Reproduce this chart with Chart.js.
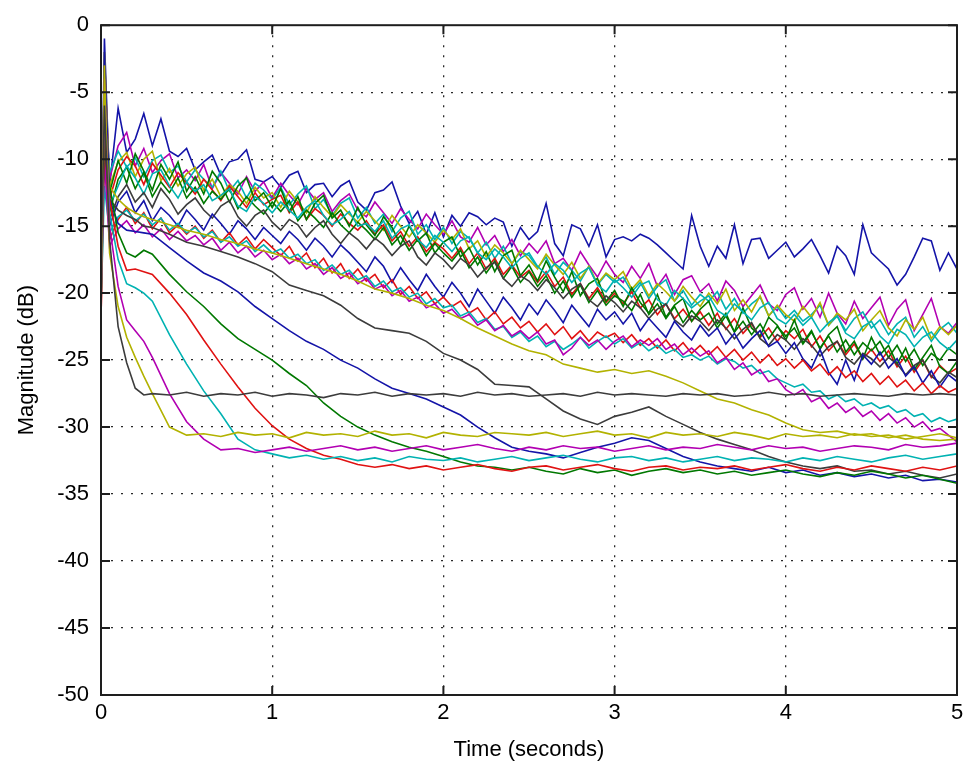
<!DOCTYPE html>
<html>
<head>
<meta charset="utf-8">
<script src="https://cdn.jsdelivr.net/npm/chart.js@4.4.1/dist/chart.umd.min.js"></script>
<style>
  body { margin: 0; background: #fff; }
  #wrap { width: 970px; height: 766px; }
</style>
</head>
<body>
<div id="wrap"><canvas id="grafico" width="970" height="766"></canvas></div>
<script>
// Time bases (seconds)
const tFine = [0, 0.02,
  0.05, 0.1, 0.15, 0.2, 0.25, 0.3, 0.35, 0.4, 0.45, 0.5,
  0.55, 0.6, 0.65, 0.7, 0.75, 0.8, 0.85, 0.9, 0.95, 1,
  1.05, 1.1, 1.15, 1.2, 1.25, 1.3, 1.35, 1.4, 1.45, 1.5,
  1.55, 1.6, 1.65, 1.7, 1.75, 1.8, 1.85, 1.9, 1.95, 2,
  2.05, 2.1, 2.15, 2.2, 2.25, 2.3, 2.35, 2.4, 2.45, 2.5,
  2.55, 2.6, 2.65, 2.7, 2.75, 2.8, 2.85, 2.9, 2.95, 3,
  3.05, 3.1, 3.15, 3.2, 3.25, 3.3, 3.35, 3.4, 3.45, 3.5,
  3.55, 3.6, 3.65, 3.7, 3.75, 3.8, 3.85, 3.9, 3.95, 4,
  4.05, 4.1, 4.15, 4.2, 4.25, 4.3, 4.35, 4.4, 4.45, 4.5,
  4.55, 4.6, 4.65, 4.7, 4.75, 4.8, 4.85, 4.9, 4.95, 5];
const tCoarse = [0, 0.02, 0.05, 0.1, 0.15, 0.2, 0.25,
  0.3, 0.4, 0.5, 0.6, 0.7, 0.8, 0.9, 1,
  1.1, 1.2, 1.3, 1.4, 1.5, 1.6, 1.7, 1.8, 1.9, 2,
  2.1, 2.2, 2.3, 2.4, 2.5, 2.6, 2.7, 2.8, 2.9, 3,
  3.1, 3.2, 3.3, 3.4, 3.5, 3.6, 3.7, 3.8, 3.9, 4,
  4.1, 4.2, 4.3, 4.4, 4.5, 4.6, 4.7, 4.8, 4.9, 5];

const xTicks = [0, 1, 2, 3, 4, 5];
const yTicks = [0, -5, -10, -15, -20, -25, -30, -35, -40, -45, -50];

// Magnitude (dB) on tCoarse: channels that decay to the noise floor
const yellowFast = [-20, -3, -17, -21.0, -23.3, -24.8, -26.2,
  -27.5, -30.0, -30.6,
  -30.5, -30.7, -30.4, -30.6, -30.5, -30.8, -30.4, -30.6, -30.5, -30.7,
  -30.3, -30.6, -30.5, -30.8, -30.4, -30.6, -30.7, -30.4, -30.5, -30.6,
  -30.4, -30.7, -30.5, -30.3, -30.6, -30.5, -30.8, -30.4, -30.6, -30.5,
  -30.7, -30.4, -30.6, -30.9, -30.5, -30.7, -30.6, -30.8, -30.5, -30.7,
  -30.6, -30.9, -30.7, -30.5, -30.8];
const blackFlat = [-18, -6, -16, -22.5, -25.2, -27.1, -27.6,
  -27.5, -27.6, -27.4,
  -27.7, -27.5, -27.6, -27.4, -27.7, -27.5, -27.6, -27.8, -27.5, -27.6,
  -27.4, -27.7, -27.5, -27.6, -27.5, -27.7, -27.4, -27.6, -27.5, -27.7,
  -27.6, -27.5, -27.7, -27.4, -27.6, -27.5, -27.6, -27.7, -27.5, -27.6,
  -27.5, -27.7, -27.6, -27.4, -27.6, -27.5, -27.7, -27.6, -27.5, -27.6,
  -27.7, -27.5, -27.6, -27.5, -27.6];
const magentaFast = [-20, -4, -15, -19.5, -22.0, -22.8, -23.6,
  -24.8, -27.5, -29.6, -30.9, -31.7,
  -31.6, -31.9, -31.7, -31.5, -31.8, -31.6, -31.4, -31.7, -31.5, -31.8,
  -31.6, -31.4, -31.7, -31.5, -31.3, -31.6, -31.8, -31.5, -31.7, -31.4,
  -31.6, -31.5, -31.8, -31.6, -31.4, -31.7, -31.5, -31.6, -31.3, -31.5,
  -31.7, -31.4, -31.6, -31.5, -31.8, -31.6, -31.4, -31.5, -31.7, -31.3,
  -31.5, -31.4, -31.2];
const cyanFast = [-21, -5, -14, -17.5, -19.3, -19.6, -20.0,
  -20.6, -23.1, -25.3, -27.3, -29.0, -30.9, -31.7, -32.0,
  -32.3, -32.1, -32.4, -32.2, -32.5, -32.3, -32.6, -32.2, -32.4, -32.5,
  -32.3, -32.6, -32.4, -32.2, -32.5, -32.3, -32.1, -32.4, -32.6, -32.3,
  -32.2, -32.5, -32.3, -32.6, -32.4, -32.2, -32.5, -32.3, -32.4, -32.6,
  -32.3, -32.5, -32.2, -32.4, -32.6, -32.3, -32.1, -32.4, -32.2, -32.0];
const redFast = [-22, -7, -13, -16.5, -18.3, -18.2, -18.4,
  -18.6, -20.0, -21.6, -23.5, -25.3, -27.0, -28.6, -29.9,
  -30.9, -31.6, -32.1, -32.4, -32.8,
  -33.0, -32.8, -33.1, -32.9, -33.2, -33.0, -32.8, -33.1, -33.3, -33.0,
  -32.9, -33.2, -33.0, -32.8, -33.1, -33.3, -33.0, -32.9, -33.2, -33.0,
  -33.1, -32.9, -33.2, -33.0, -32.8, -33.1, -33.3, -33.0, -33.2, -32.9,
  -33.1, -33.3, -33.0, -33.2, -32.9];
const greenMed = [-19, -8, -12, -15.5, -17.0, -17.3, -16.8,
  -17.1, -18.6, -19.9, -21.0, -22.3, -23.4, -24.2, -25.0,
  -26.0, -26.9, -28.2, -29.2, -30.0, -30.6, -31.1, -31.5, -31.8, -32.2,
  -32.6, -32.9, -33.0,
  -33.2, -33.0, -33.3, -33.5, -33.1, -33.4, -33.2, -33.6, -33.3, -33.1,
  -33.4, -33.2, -33.5, -33.3, -33.6, -33.4, -33.2, -33.5, -33.7, -33.4,
  -33.6, -33.3, -33.5, -33.8, -33.6, -33.9, -34.2];
const blueMed = [-20, -2, -13, -14.8, -15.3, -15.4, -15.5,
  -15.6, -16.6, -17.6, -18.5, -19.1, -19.9, -21.0, -21.9,
  -22.8, -23.6, -24.2, -25.0, -25.6, -26.4, -27.1, -27.5, -27.9, -28.5,
  -29.1, -30.0, -30.8, -31.5, -31.8, -32.0, -32.3, -31.9, -31.5, -31.2,
  -30.8, -31.0, -31.6, -32.2, -32.6, -32.9, -33.1, -33.3, -33.0, -33.4,
  -33.2, -33.6, -33.4, -33.7, -33.5, -33.8, -33.6, -34.0, -33.9, -34.1];
const blackSlow = [-19, -9, -13, -13.8, -14.2, -14.5, -15.0,
  -15.1, -15.6, -16.2, -16.5, -16.9, -17.3, -17.8, -18.4,
  -19.4, -19.8, -20.2, -20.9, -21.9, -22.6, -22.8, -23.0, -23.6, -24.5,
  -25.0, -25.7, -26.8, -26.9, -27.0, -27.9, -28.8, -29.4, -29.8, -29.2,
  -28.9, -28.5, -29.2, -29.8, -30.4, -30.9, -31.3, -31.7, -32.2, -32.6,
  -32.9, -33.1, -32.9, -33.3, -33.2, -33.5, -33.3, -33.6, -33.8, -33.5];
const yellowSlow = [-21, -4, -12, -13.0, -13.6, -14.0, -14.3,
  -14.5, -14.9, -15.3, -15.6, -16.0, -16.3, -16.7, -17.0,
  -17.4, -17.8, -18.2, -18.6, -19.1, -19.7, -20.0, -20.4, -20.9, -21.3,
  -21.9, -22.6, -23.2, -23.8, -24.3, -24.6, -25.3, -25.6, -25.9, -25.7,
  -26.0, -25.8, -26.2, -26.7, -27.3, -27.9, -28.2, -28.7, -29.1, -29.7,
  -30.2, -30.4, -30.3, -30.6, -30.5, -30.8, -30.6, -30.9, -31.0, -30.9];

// Magnitude (dB) on tFine: noisy channels
const magentaSlow = [-20, -10,
  -16.5, -15.2, -14.6, -15.5, -14.9, -15.8, -15.2, -16.0, -15.4, -16.1,
  -15.7, -16.4, -15.9, -16.8, -16.2, -17.0, -16.5, -17.3, -16.8, -17.5,
  -17.1, -17.8, -17.4, -18.2, -17.8, -18.6, -18.1, -18.9, -18.5, -19.3,
  -18.9, -19.7, -19.4, -20.2, -19.8, -20.6, -20.3, -21.1, -20.8, -21.5,
  -21.2, -21.9, -21.6, -22.4, -22.0, -22.8, -22.4, -23.2, -22.8, -23.4,
  -22.9, -23.8, -23.5, -24.6, -24.1, -23.3, -23.9, -23.5, -24.2, -23.6,
  -23.2, -24.0, -23.5, -23.9, -23.4, -24.2, -23.8, -24.6, -24.1, -24.7,
  -24.3, -25.2, -24.8, -25.7, -25.2, -26.1, -25.7, -26.6, -26.4, -27.2,
  -27.6, -27.2, -28.1, -27.8, -28.6, -28.2, -28.9, -28.5, -29.2, -28.8,
  -29.5, -29.0, -29.7, -29.3, -30.0, -29.6, -30.3, -30.1, -30.6, -31.1];
const cyanSlow = [-21, -12,
  -15.5, -14.3, -13.8, -14.6, -14.1, -14.9, -14.4, -15.3, -14.8, -15.5,
  -15.1, -15.8, -15.4, -16.2, -15.8, -16.5, -16.1, -16.9, -16.4, -17.0,
  -16.7, -17.4, -17.1, -17.8, -17.5, -18.3, -17.9, -18.6, -18.3, -19.0,
  -18.7, -19.5, -19.1, -19.9, -19.6, -20.3, -20.0, -20.8, -20.4, -21.1,
  -20.9, -21.7, -21.4, -22.2, -21.9, -22.7, -22.5, -23.3, -22.9, -23.6,
  -23.2, -24.0, -23.6, -24.2, -23.8, -23.3, -24.1, -23.6, -23.2, -23.8,
  -23.4, -24.1, -23.7, -24.3, -23.9, -24.5, -24.2, -24.8, -24.6, -25.0,
  -24.7, -25.3, -24.9, -25.1, -25.6, -25.4, -26.0, -25.8, -26.4, -26.7,
  -27.0, -26.8, -27.4, -27.3, -27.9, -27.6, -28.1, -27.9, -28.4, -28.2,
  -28.6, -28.4, -28.9, -28.7, -29.2, -29.0, -29.6, -29.3, -29.6, -29.4];
const clusterMagenta = [-19, -3,
  -11.5, -9.0, -8.0, -10.5, -9.2, -11.0, -10.1, -9.6, -11.4, -10.8,
  -11.6, -10.4, -12.2, -11.0, -11.8, -12.6, -11.3, -12.4, -11.7, -12.9,
  -11.8, -12.7, -13.4, -12.2, -13.0, -12.5, -13.9, -13.1, -12.6, -13.8,
  -14.3, -13.2, -14.0, -14.8, -13.7, -14.5, -15.2, -14.1, -14.9, -15.6,
  -14.6, -15.8, -16.2, -15.1, -16.4, -15.7, -16.9, -16.0, -17.2, -16.3,
  -17.0, -16.1, -17.8, -17.4, -18.3, -16.9, -17.9, -18.8, -17.6, -18.6,
  -19.2, -18.0, -18.9, -17.8, -19.5, -18.6, -20.1, -19.0, -18.7, -19.9,
  -19.3, -20.6, -19.1, -19.8, -21.0, -20.2, -19.4, -20.8, -21.3, -20.1,
  -19.6, -21.2, -20.4, -21.8, -20.0, -21.5, -22.3, -20.6, -21.9, -21.1,
  -20.3, -22.4, -21.2, -20.5, -22.8, -21.6, -20.4, -22.5, -23.0, -22.2];
const clusterYellow = [-20, -2,
  -12.0, -10.2, -9.5, -11.3, -10.0, -9.4, -11.6, -10.7, -12.0, -11.1,
  -10.6, -12.3, -11.5, -12.8, -11.9, -12.4, -13.3, -12.1, -12.9, -12.5,
  -13.6, -12.4, -13.2, -14.0, -12.8, -13.6, -14.3, -13.4, -14.1, -14.7,
  -13.9, -14.6, -15.3, -14.2, -15.0, -15.8, -14.9, -15.5, -16.2, -15.3,
  -16.0, -15.2, -16.7, -16.1, -17.3, -16.4, -17.0, -17.8, -16.8, -17.5,
  -18.2, -17.1, -17.9, -18.6, -17.7, -18.9, -18.0, -19.3, -18.5, -19.0,
  -18.4, -19.7, -19.0, -20.2, -19.3, -19.9, -20.6, -19.5, -20.3, -21.0,
  -20.0, -20.8, -19.7, -21.3, -20.5, -21.4, -20.2, -21.7, -20.9, -21.6,
  -22.1, -21.0, -21.8, -20.7, -22.4, -21.5, -22.0, -21.2, -22.8, -22.0,
  -21.3, -22.6, -23.2, -22.0, -22.7, -21.8, -23.4, -22.5, -23.1, -22.4];
const clusterRed = [-21, -5,
  -13.0, -10.8, -9.8, -10.5, -11.9, -10.3, -11.2, -12.1, -11.0, -11.8,
  -12.6, -11.5, -12.3, -13.1, -12.0, -12.8, -13.6, -12.5, -13.4, -13.0,
  -12.7, -14.0, -13.2, -14.5, -13.7, -14.2, -15.0, -14.1, -14.8, -15.3,
  -14.6, -15.6, -14.9, -16.1, -15.4, -16.5, -15.8, -16.9, -16.2, -16.7,
  -17.4, -16.6, -17.8, -17.0, -18.2, -17.4, -18.6, -17.9, -18.8, -18.3,
  -19.2, -18.4, -19.5, -18.8, -20.1, -19.3, -20.4, -19.6, -20.7, -20.0,
  -20.8, -19.9, -21.1, -20.5, -21.6, -20.8, -21.9, -21.2, -22.1, -21.4,
  -22.4, -21.5, -22.7, -21.9, -23.0, -22.3, -23.3, -22.6, -23.6, -22.8,
  -23.4, -22.7, -24.0, -23.2, -24.3, -23.6, -24.6, -23.8, -24.9, -24.2,
  -25.1, -24.3, -25.5, -24.7, -25.9, -25.0, -26.3, -25.4, -26.0, -25.6];
const clusterGreen = [-18, -6,
  -14.0, -11.5, -10.6, -12.2, -11.0, -12.8, -11.7, -12.5, -11.4, -12.9,
  -12.1, -13.3, -12.4, -13.0, -12.2, -13.7, -12.8, -13.5, -14.1, -13.2,
  -13.9, -13.1, -14.6, -13.8, -14.4, -15.1, -14.0, -14.9, -15.5, -14.7,
  -15.3, -16.0, -15.1, -16.4, -15.7, -16.8, -16.0, -17.2, -16.3, -17.0,
  -17.6, -16.8, -18.1, -17.3, -18.5, -17.6, -18.9, -18.0, -19.2, -18.4,
  -19.5, -18.7, -20.0, -19.1, -20.3, -19.4, -20.7, -19.8, -20.9, -20.2,
  -20.6, -21.3, -20.1, -21.6, -20.8, -21.9, -21.0, -22.2, -21.3, -22.0,
  -21.5, -22.6, -21.7, -22.9, -22.1, -23.1, -22.3, -23.4, -22.5, -23.2,
  -22.6, -23.8, -22.9, -24.1, -23.2, -24.4, -23.5, -24.6, -23.7, -24.3,
  -23.6, -24.8, -23.9, -25.1, -24.2, -25.4, -24.5, -25.0, -24.1, -24.6];
const clusterGreen2 = [-20, -4,
  -12.5, -10.1, -11.8, -9.6, -10.9, -12.3, -10.4, -11.5, -10.2, -12.4,
  -11.3, -12.6, -10.9, -11.8, -13.2, -12.0, -11.4, -13.1, -12.5, -13.6,
  -12.2, -13.9, -12.8, -14.5, -13.3, -12.7, -14.4, -13.8, -15.0, -13.6,
  -14.9, -15.7, -14.3, -15.1, -16.4, -15.0, -16.1, -15.5, -17.0, -16.2,
  -15.8, -17.3, -16.6, -17.9, -16.9, -18.4, -17.2, -16.8, -18.7, -17.9,
  -19.1, -17.6, -18.8, -19.9, -18.4, -20.2, -19.3, -18.9, -20.6, -19.8,
  -21.0, -19.6, -20.7, -21.5, -20.1, -21.8, -20.9, -20.4, -22.1, -21.2,
  -20.6, -22.3, -21.5, -22.9, -21.1, -22.6, -23.2, -21.8, -22.4, -23.5,
  -22.0, -23.7, -22.8, -24.2, -23.1, -22.5, -24.4, -23.6, -24.9, -23.3,
  -24.6, -23.9, -25.3, -24.1, -25.7, -24.8, -23.9, -25.5, -26.0, -25.1];
const clusterCyan = [-20, -7,
  -13.5, -12.0, -10.5, -11.4, -12.6, -11.1, -10.8, -12.0, -12.9, -11.7,
  -12.4, -11.9, -13.1, -12.7, -12.2, -13.5, -13.9, -12.8, -13.3, -14.0,
  -13.2, -13.8, -14.4, -13.6, -13.1, -14.2, -14.9, -14.5, -13.9, -15.0,
  -14.8, -15.4, -14.6, -15.9, -15.2, -14.9, -16.0, -16.6, -15.7, -16.2,
  -16.9, -16.1, -15.8, -17.0, -17.5, -16.7, -17.3, -18.1, -17.4, -17.0,
  -18.0, -18.6, -17.8, -18.3, -19.2, -18.5, -18.1, -19.4, -19.9, -19.0,
  -19.6, -20.3, -19.4, -19.1, -20.5, -20.9, -19.8, -20.4, -21.1, -20.6,
  -20.2, -21.3, -21.7, -20.8, -21.4, -22.0, -21.1, -20.7, -21.9, -22.3,
  -21.6, -22.4, -21.8, -22.9, -22.2, -21.7, -23.0, -23.4, -22.5, -22.1,
  -23.2, -23.8, -22.7, -23.1, -24.0, -23.3, -22.9, -23.7, -24.2, -23.5];
const clusterCyan2 = [-19, -5,
  -11.0, -9.4, -10.6, -9.9, -11.3, -10.1, -9.7, -11.0, -10.5, -11.7,
  -10.8, -11.5, -12.1, -10.9, -12.4, -11.6, -12.9, -11.8, -12.3, -13.0,
  -12.1, -13.4, -12.6, -12.0, -13.7, -13.0, -14.2, -13.3, -12.9, -14.4,
  -13.6, -14.8, -14.1, -15.4, -14.4, -13.9, -15.6, -14.9, -16.0, -15.1,
  -16.3, -15.4, -15.9, -17.0, -16.2, -17.4, -16.5, -17.8, -16.9, -17.2,
  -18.1, -17.3, -18.6, -17.7, -18.3, -19.1, -18.0, -19.4, -18.6, -19.2,
  -18.8, -19.9, -19.2, -20.4, -19.5, -19.0, -20.6, -19.8, -20.9, -20.1,
  -20.6, -19.9, -21.2, -20.4, -21.5, -20.8, -20.3, -21.7, -21.0, -21.9,
  -21.3, -22.1, -21.6, -20.9, -22.4, -21.7, -22.8, -21.9, -21.4, -22.6,
  -22.0, -23.1, -22.3, -21.8, -23.3, -22.5, -23.6, -22.7, -22.2, -23.0];
const clusterBlack = [-17, -8,
  -14.5, -12.8, -11.9, -13.2, -12.5, -13.6, -12.2, -13.0, -14.1, -13.4,
  -12.9, -13.8, -14.4, -13.5, -13.1, -14.3, -15.0, -14.2, -13.8, -14.7,
  -15.3, -14.5, -14.9, -15.8, -15.1, -14.6, -15.6, -16.3, -15.5, -16.0,
  -16.7, -15.9, -16.4, -17.2, -16.5, -16.1, -17.3, -17.9, -17.0, -17.5,
  -18.2, -17.4, -17.9, -18.8, -18.1, -17.7, -18.9, -19.5, -18.7, -19.1,
  -19.8, -19.0, -19.6, -20.4, -19.7, -19.3, -20.5, -21.0, -20.2, -20.7,
  -21.4, -20.6, -21.1, -21.9, -21.2, -20.8, -22.0, -22.5, -21.7, -22.1,
  -22.8, -22.0, -22.6, -23.4, -22.7, -22.2, -23.4, -23.9, -23.1, -23.5,
  -24.2, -23.4, -23.9, -24.7, -24.0, -23.6, -24.8, -25.3, -24.5, -24.9,
  -25.5, -24.8, -25.3, -26.1, -25.4, -25.0, -26.2, -26.7, -25.9, -26.3];
const clusterBlue = [-19, -4,
  -15.0, -13.2, -12.4, -14.0, -13.1, -14.6, -13.6, -14.2, -15.0, -13.8,
  -14.5, -15.3, -14.1, -14.8, -15.6, -14.6, -15.2, -16.0, -15.1, -15.7,
  -16.3, -15.4, -16.0, -16.8, -15.9, -16.5, -17.3, -16.4, -17.0, -17.7,
  -18.4, -17.3, -18.0, -19.2, -18.1, -19.0, -19.8, -18.6, -19.5, -20.3,
  -19.2, -20.0, -21.0, -19.7, -20.6, -21.5, -20.3, -21.1, -22.0, -20.8,
  -21.6, -20.5, -21.3, -22.2, -20.9, -21.7, -22.5, -21.2, -22.0, -21.4,
  -22.3, -21.5, -22.8, -21.9, -22.6, -23.3, -22.1, -22.9, -23.5, -22.4,
  -23.2, -22.6, -23.8, -23.0, -24.1, -23.4, -22.8, -24.0, -23.6, -24.5,
  -23.7, -24.9, -25.6, -24.2, -25.9, -26.8, -25.0, -26.5, -24.6, -25.3,
  -24.4, -25.6, -24.9, -26.2, -25.5, -26.7, -25.8, -27.0, -26.1, -26.6];
const clusterRed2 = [-22, -9,
  -16.0, -14.5, -13.6, -14.8, -14.0, -15.2, -14.4, -15.5, -14.9, -15.6,
  -15.0, -15.9, -15.3, -16.2, -15.5, -16.4, -15.8, -16.7, -16.0, -16.6,
  -17.2, -16.5, -17.6, -17.0, -18.1, -17.4, -18.5, -17.8, -18.9, -18.2,
  -19.1, -18.6, -19.6, -19.0, -20.1, -19.5, -20.4, -19.9, -20.8, -20.3,
  -21.0, -20.6, -21.5, -21.1, -22.0, -21.4, -22.3, -21.8, -22.6, -22.1,
  -22.9, -22.3, -23.1, -22.5, -23.4, -22.8, -23.6, -22.9, -23.3, -23.0,
  -23.7, -23.1, -23.9, -23.4, -24.1, -23.5, -24.3, -23.7, -24.5, -23.9,
  -24.6, -24.0, -24.8, -24.2, -25.0, -24.4, -25.2, -24.6, -25.4, -24.9,
  -25.6, -25.0, -25.8, -25.3, -26.1, -25.5, -26.3, -25.8, -26.6, -26.0,
  -26.8, -26.2, -27.0, -26.5, -27.3, -26.7, -27.5, -26.9, -27.4, -27.1];
const topBlue = [-18, -1.0,
  -12.0, -6.2, -9.5, -8.5, -6.6, -9.0, -7.0, -9.4, -9.8, -9.2,
  -10.8, -10.2, -9.7, -11.2, -10.2, -10.0, -9.3, -11.5, -11.7, -11.3,
  -12.1, -11.2, -10.9, -12.5, -11.9, -11.8, -12.8, -12.0, -11.6, -13.2,
  -13.8, -12.5, -12.3, -11.7, -13.5, -14.8, -13.9, -15.6, -14.0, -15.8,
  -14.2, -15.0, -14.0, -14.3, -14.9, -14.4, -14.7, -16.5, -15.1, -16.0,
  -15.4, -13.3, -16.3, -17.2, -14.9, -15.2, -16.5, -14.9, -17.3, -16.0,
  -15.8, -16.1, -15.6, -15.9, -16.4, -17.0, -17.6, -18.2, -14.2, -16.5,
  -18.0, -16.5, -17.4, -14.9, -17.8, -16.0, -15.9, -17.4, -16.8, -16.2,
  -17.3, -16.7, -16.0, -17.2, -18.5, -16.5, -17.2, -18.6, -14.9, -17.0,
  -17.6, -18.2, -19.4, -18.6, -17.3, -15.9, -16.1, -18.3, -17.0, -18.2];

// MATLAB-like colour order
const azul = '#1414a8', verde = '#007800', vermelho = '#e01212',
      ciano = '#00b2b2', magenta = '#b200b2', amarelo = '#b2b200', preto = '#3c3c3c';

const series = [
  [tCoarse, blackFlat, preto],
  [tCoarse, yellowFast, amarelo],
  [tCoarse, magentaFast, magenta],
  [tCoarse, cyanFast, ciano],
  [tCoarse, redFast, vermelho],
  [tCoarse, greenMed, verde],
  [tCoarse, blueMed, azul],
  [tCoarse, blackSlow, preto],
  [tCoarse, yellowSlow, amarelo],
  [tFine, magentaSlow, magenta],
  [tFine, cyanSlow, ciano],
  [tFine, clusterRed2, vermelho],
  [tFine, clusterBlue, azul],
  [tFine, clusterBlack, preto],
  [tFine, clusterCyan, ciano],
  [tFine, clusterGreen, verde],
  [tFine, clusterGreen2, verde],
  [tFine, clusterRed, vermelho],
  [tFine, clusterYellow, amarelo],
  [tFine, clusterCyan2, ciano],
  [tFine, clusterMagenta, magenta],
  [tFine, topBlue, azul]
];

const datasets = series.map(([tempo, valores, cor]) => ({
  data: tempo.map((t, i) => ({ x: t, y: valores[i] })),
  borderColor: cor,
  borderWidth: 1.6,
  pointRadius: 0,
  tension: 0,
  fill: false
}));

// Box and inward tick marks, like the MATLAB axes
const moldura = {
  id: 'moldura',
  afterDatasetsDraw(chart) {
    const { ctx, chartArea: a, scales: { x, y } } = chart;
    ctx.save();
    ctx.strokeStyle = '#1e1e1e';
    ctx.lineWidth = 2;
    ctx.strokeRect(a.left, a.top, a.right - a.left, a.bottom - a.top);
    ctx.beginPath();
    yTicks.forEach(v => {
      const py = y.getPixelForValue(v);
      ctx.moveTo(a.left, py); ctx.lineTo(a.left + 9, py);
      ctx.moveTo(a.right, py); ctx.lineTo(a.right - 9, py);
    });
    xTicks.forEach(v => {
      const px = x.getPixelForValue(v);
      ctx.moveTo(px, a.bottom); ctx.lineTo(px, a.bottom - 9);
      ctx.moveTo(px, a.top); ctx.lineTo(px, a.top + 9);
    });
    ctx.stroke();
    ctx.restore();
  }
};

const fonte = { family: '"Liberation Sans", Arial, sans-serif', size: 22 };
const gradeCor = ctx => {
  const v = ctx.tick ? ctx.tick.value : null;
  return (v === 0 || v === -50 || v === 5) ? 'rgba(0,0,0,0)' : '#2a2a2a';
};

new Chart(document.getElementById('grafico'), {
  type: 'line',
  data: { datasets },
  options: {
    responsive: false,
    animation: false,
    layout: { padding: { top: 21, right: 13, left: 0, bottom: 0 } },
    plugins: { legend: { display: false }, tooltip: { enabled: false } },
    scales: {
      x: {
        type: 'linear',
        min: 0, max: 5,
        afterFit: s => { s.height = 71; },
        afterBuildTicks: s => { s.ticks = xTicks.map(v => ({ value: v })); },
        ticks: { color: '#000', font: fonte, padding: 5, maxRotation: 0 },
        grid: { color: gradeCor, lineWidth: 1.3, drawTicks: false },
        border: { display: false, dash: [2, 8] },
        title: { display: true, text: 'Time (seconds)', color: '#000', font: fonte, padding: { top: 0, bottom: 3 } }
      },
      y: {
        min: -50, max: 0,
        afterFit: s => { s.width = 101; },
        afterBuildTicks: s => { s.ticks = yTicks.map(v => ({ value: v })); },
        ticks: { color: '#000', font: fonte, padding: 12 },
        grid: { color: gradeCor, lineWidth: 1.3, drawTicks: false },
        border: { display: false, dash: [2, 8] },
        title: { display: true, text: 'Magnitude (dB)', color: '#000', font: fonte, padding: { top: 14, bottom: 0 } }
      }
    }
  },
  plugins: [moldura]
});
</script>
</body>
</html>
